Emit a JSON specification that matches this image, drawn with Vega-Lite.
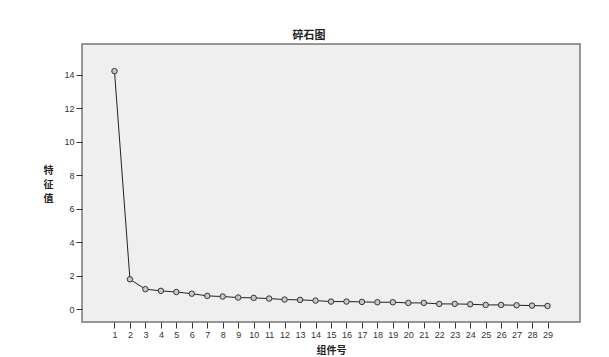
{
  "$schema": "https://vega.github.io/schema/vega-lite/v6.json",
  "width": 498,
  "height": 278,
  "autosize": {"type": "none"},
  "padding": {"left": 82, "top": 44, "right": 29, "bottom": 35},
  "background": "white",
  "title": {"text": "碎石图", "font": "Noto Sans CJK SC", "fontSize": 11, "fontWeight": "bold", "color": "#222", "anchor": "middle", "dx": -22, "offset": 3},
  "config": {
    "view": {"fill": "#efefef", "stroke": "#777", "strokeWidth": 1.5},
    "axis": {"grid": false, "domain": false, "labelFont": "Liberation Sans", "labelFontSize": 9, "labelColor": "#333", "tickColor": "#333", "tickSize": 6}
  },
  "data": {"values": [
    {"c": 1, "v": 14.22}, {"c": 2, "v": 1.79}, {"c": 3, "v": 1.2}, {"c": 4, "v": 1.1},
    {"c": 5, "v": 1.03}, {"c": 6, "v": 0.93}, {"c": 7, "v": 0.8}, {"c": 8, "v": 0.76},
    {"c": 9, "v": 0.7}, {"c": 10, "v": 0.68}, {"c": 11, "v": 0.64}, {"c": 12, "v": 0.58},
    {"c": 13, "v": 0.56}, {"c": 14, "v": 0.52}, {"c": 15, "v": 0.46}, {"c": 16, "v": 0.46},
    {"c": 17, "v": 0.44}, {"c": 18, "v": 0.42}, {"c": 19, "v": 0.42}, {"c": 20, "v": 0.38},
    {"c": 21, "v": 0.38}, {"c": 22, "v": 0.32}, {"c": 23, "v": 0.32}, {"c": 24, "v": 0.3},
    {"c": 25, "v": 0.26}, {"c": 26, "v": 0.26}, {"c": 27, "v": 0.24}, {"c": 28, "v": 0.22},
    {"c": 29, "v": 0.2}
  ]},
  "encoding": {
    "x": {"field": "c", "type": "quantitative", "scale": {"domain": [-1.1, 31.1], "nice": false, "zero": false},
      "axis": {"values": [1,2,3,4,5,6,7,8,9,10,11,12,13,14,15,16,17,18,19,20,21,22,23,24,25,26,27,28,29], "title": "组件号", "titleFont": "Noto Sans CJK SC", "titleFontSize": 10, "titleFontWeight": "bold", "titleColor": "#222", "labelPadding": 2, "titlePadding": 6, "labelFlush": false}},
    "y": {"field": "v", "type": "quantitative", "scale": {"domain": [-0.76, 15.84], "nice": false, "zero": false},
      "axis": {"values": [0,2,4,6,8,10,12,14], "title": ["特","征","值"], "titleAngle": 0, "titleFont": "Noto Sans CJK SC", "titleFontSize": 10, "titleFontWeight": "bold", "titleColor": "#222", "titleX": -34, "titleY": 126, "titleAlign": "center", "titleBaseline": "middle", "titleLineHeight": 14, "labelPadding": 2}}
  },
  "layer": [
    {"mark": {"type": "line", "color": "#222", "strokeWidth": 1}},
    {"mark": {"type": "point", "shape": "circle", "size": 30, "filled": true, "fill": "#c8c8c8", "stroke": "#333", "strokeWidth": 1, "opacity": 1}}
  ]
}
